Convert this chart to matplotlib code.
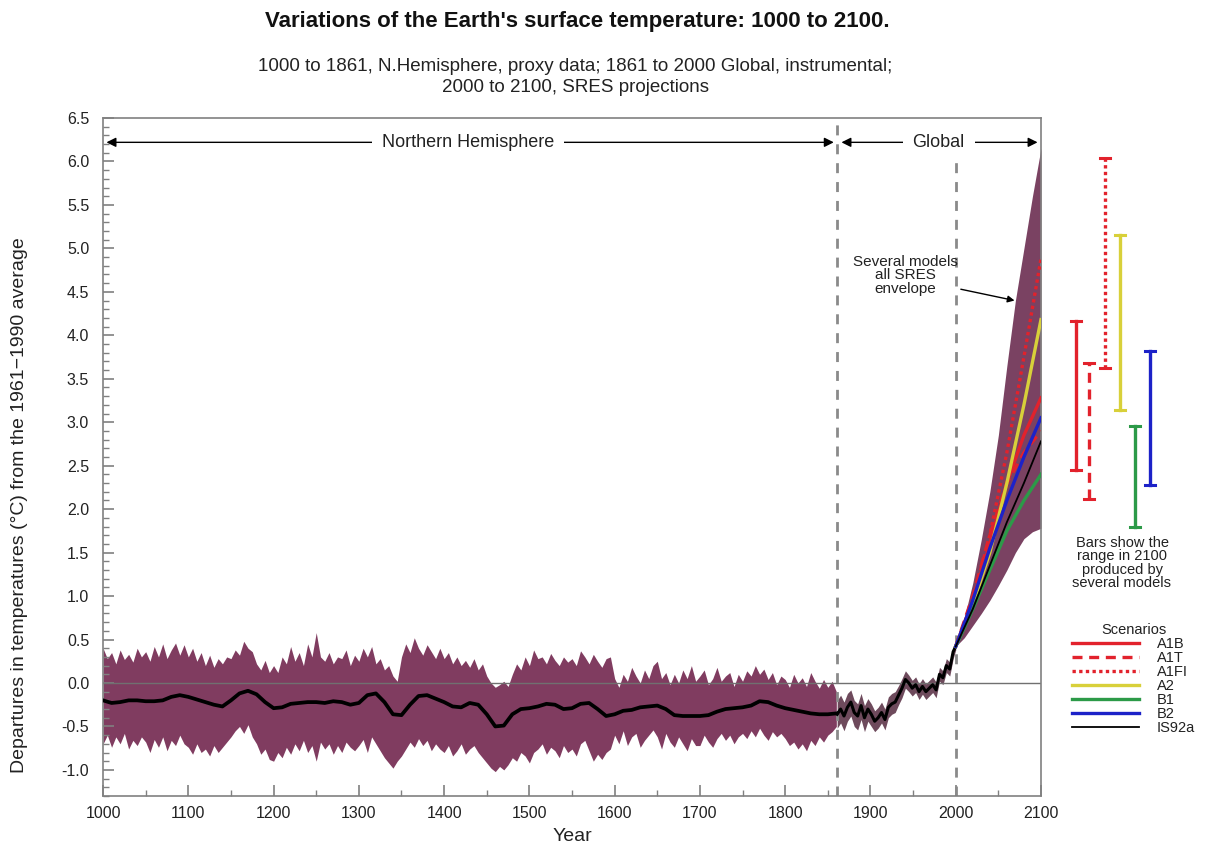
import matplotlib
matplotlib.use("Agg")
import matplotlib.pyplot as plt
from matplotlib.ticker import MultipleLocator, FormatStrFormatter
from matplotlib.lines import Line2D

plt.rcParams['font.family'] = ['Liberation Sans', 'DejaVu Sans']
plt.rcParams['axes.unicode_minus'] = False

# ---------------- data ----------------
# N. Hemisphere proxy envelope, every 5 years 1000..1860
proxy_years = list(range(1000, 1861, 5))
proxy_hi = [0.40, 0.28, 0.35, 0.22, 0.38, 0.27, 0.33, 0.24, 0.40, 0.30,
            0.36, 0.25, 0.42, 0.30, 0.45, 0.28, 0.38, 0.46, 0.32, 0.44,
            0.30, 0.40, 0.25, 0.35, 0.20, 0.32, 0.18, 0.28, 0.22, 0.30,
            0.28, 0.38, 0.32, 0.48, 0.40, 0.36, 0.22, 0.15, 0.26, 0.12,
            0.20, 0.12, 0.30, 0.22, 0.42, 0.25, 0.35, 0.20, 0.45, 0.30,
            0.58, 0.30, 0.25, 0.35, 0.22, 0.30, 0.28, 0.38, 0.20, 0.32,
            0.25, 0.40, 0.30, 0.42, 0.22, 0.28, 0.15, 0.20, 0.08, 0.02,
            0.30, 0.45, 0.35, 0.52, 0.40, 0.32, 0.44, 0.36, 0.28, 0.40,
            0.28, 0.35, 0.22, 0.30, 0.20, 0.26, 0.18, 0.28, 0.15, 0.22,
            0.08, 0.00, -0.05, -0.02, 0.02, -0.04, 0.10, 0.22, 0.15, 0.30,
            0.20, 0.38, 0.28, 0.30, 0.22, 0.34, 0.26, 0.20, 0.30, 0.24,
            0.28, 0.20, 0.37, 0.30, 0.22, 0.33, 0.25, 0.18, 0.28, 0.30,
            0.05, -0.05, 0.10, 0.02, 0.18, 0.08, 0.00, 0.15, 0.05, 0.20,
            0.25, 0.05, 0.12, -0.02, 0.10, 0.00, 0.15, 0.05, 0.20, 0.02,
            0.08, 0.15, -0.02, 0.05, 0.18, 0.02, 0.08, 0.12, -0.04, 0.10,
            0.02, 0.14, 0.08, 0.20, 0.10, 0.16, 0.04, 0.12, -0.02, 0.08,
            0.04, -0.05, 0.10, 0.00, 0.06, -0.04, 0.12, 0.02, -0.06, 0.04,
            -0.05, 0.02, -0.10]
proxy_lo = [-0.70, -0.60, -0.74, -0.62, -0.70, -0.58, -0.76, -0.66, -0.72, -0.62,
            -0.68, -0.80, -0.65, -0.74, -0.62, -0.78, -0.66, -0.72, -0.60, -0.70,
            -0.74, -0.82, -0.70, -0.80, -0.76, -0.84, -0.72, -0.80, -0.74, -0.68,
            -0.62, -0.55, -0.50, -0.58, -0.48, -0.62, -0.70, -0.82, -0.76, -0.88,
            -0.90, -0.80, -0.86, -0.74, -0.82, -0.70, -0.78, -0.66, -0.80, -0.72,
            -0.90, -0.68, -0.76, -0.70, -0.82, -0.72, -0.80, -0.68, -0.74, -0.78,
            -0.72, -0.65, -0.80, -0.62, -0.70, -0.78, -0.86, -0.92, -0.98, -0.90,
            -0.84, -0.76, -0.68, -0.74, -0.64, -0.72, -0.66, -0.78, -0.70, -0.76,
            -0.80, -0.72, -0.84, -0.78, -0.70, -0.82, -0.76, -0.72, -0.80, -0.86,
            -0.92, -0.98, -1.02, -0.96, -1.00, -0.94, -0.86, -0.90, -0.80, -0.84,
            -0.92, -0.80, -0.76, -0.70, -0.82, -0.74, -0.78, -0.86, -0.72, -0.80,
            -0.76, -0.84, -0.70, -0.66, -0.78, -0.90, -0.82, -0.88, -0.80, -0.76,
            -0.60, -0.70, -0.55, -0.72, -0.62, -0.58, -0.74, -0.66, -0.60, -0.54,
            -0.62, -0.76, -0.58, -0.68, -0.74, -0.62, -0.70, -0.78, -0.64, -0.72,
            -0.72, -0.60, -0.68, -0.74, -0.64, -0.58, -0.66, -0.60, -0.70, -0.62,
            -0.58, -0.64, -0.55, -0.62, -0.52, -0.60, -0.66, -0.56, -0.62, -0.58,
            -0.64, -0.72, -0.68, -0.76, -0.70, -0.78, -0.66, -0.72, -0.62, -0.68,
            -0.60, -0.56, -0.50]

# smoothed proxy curve, every 10 years 1000..1860
smooth_years = list(range(1000, 1861, 10))
smooth_vals = [-0.20, -0.23, -0.22, -0.20, -0.20, -0.21, -0.21, -0.20, -0.16, -0.14,
               -0.16, -0.19, -0.22, -0.25, -0.27, -0.20, -0.12, -0.09, -0.13, -0.22,
               -0.29, -0.28, -0.24, -0.23, -0.22, -0.22, -0.23, -0.21, -0.22, -0.25,
               -0.23, -0.14, -0.12, -0.22, -0.36, -0.37, -0.25, -0.15, -0.14, -0.18,
               -0.22, -0.27, -0.28, -0.23, -0.25, -0.36, -0.50, -0.49, -0.36, -0.30,
               -0.29, -0.27, -0.24, -0.25, -0.30, -0.29, -0.24, -0.23, -0.30, -0.38,
               -0.36, -0.32, -0.31, -0.28, -0.27, -0.26, -0.30, -0.37, -0.38, -0.38,
               -0.38, -0.37, -0.33, -0.30, -0.29, -0.28, -0.26, -0.21, -0.22, -0.26,
               -0.29, -0.31, -0.33, -0.35, -0.36, -0.36, -0.35]

# global instrumental record 1861..2000
instr_years = [1861, 1865, 1869, 1873, 1877, 1881, 1885, 1889, 1893, 1897,
               1901, 1905, 1909, 1913, 1917, 1921, 1925, 1929, 1933, 1937,
               1941, 1945, 1949, 1953, 1957, 1961, 1965, 1969, 1973, 1977,
               1981, 1985, 1989, 1993, 1997, 2000]
instr_vals = [-0.36, -0.30, -0.38, -0.28, -0.22, -0.34, -0.38, -0.26, -0.40, -0.30,
              -0.36, -0.44, -0.40, -0.34, -0.42, -0.28, -0.24, -0.22, -0.14, -0.06,
              0.04, 0.00, -0.06, -0.02, -0.10, -0.04, -0.10, -0.06, -0.02, -0.08,
              0.10, 0.06, 0.20, 0.16, 0.36, 0.42]
instr_hi = [-0.20, -0.14, -0.22, -0.12, -0.08, -0.20, -0.24, -0.12, -0.26, -0.18,
            -0.24, -0.32, -0.28, -0.22, -0.30, -0.16, -0.12, -0.10, -0.03, 0.05,
            0.14, 0.09, 0.03, 0.07, -0.01, 0.05, -0.01, 0.03, 0.07, 0.01,
            0.18, 0.14, 0.28, 0.24, 0.42, 0.46]
instr_lo = [-0.52, -0.46, -0.55, -0.44, -0.38, -0.50, -0.54, -0.42, -0.56, -0.44,
            -0.50, -0.56, -0.52, -0.46, -0.54, -0.40, -0.36, -0.34, -0.25, -0.17,
            -0.06, -0.10, -0.15, -0.11, -0.19, -0.13, -0.19, -0.15, -0.11, -0.17,
            0.02, -0.02, 0.12, 0.08, 0.28, 0.38]

# SRES projections 2000..2100
proj_years = [2000, 2010, 2020, 2030, 2040, 2050, 2060, 2070, 2080, 2090, 2100]
env_hi = [0.42, 0.75, 1.15, 1.65, 2.20, 2.85, 3.65, 4.40, 5.00, 5.60, 6.15]
env_lo = [0.42, 0.52, 0.66, 0.80, 0.95, 1.12, 1.30, 1.50, 1.66, 1.74, 1.78]

scen_years = [2000, 2020, 2040, 2060, 2080, 2100]
scenario_names = ["A1B", "A1T", "A1FI", "A2", "B1", "B2", "IS92a"]
scenario_vals = {
    "A1B":   [0.42, 0.95, 1.60, 2.30, 2.85, 3.28],
    "A1T":   [0.42, 1.00, 1.70, 2.30, 2.65, 2.90],
    "A1FI":  [0.42, 0.95, 1.70, 2.65, 3.75, 4.88],
    "A2":    [0.42, 0.90, 1.50, 2.30, 3.20, 4.18],
    "B1":    [0.42, 0.85, 1.30, 1.75, 2.10, 2.40],
    "B2":    [0.42, 0.95, 1.55, 2.10, 2.60, 3.05],
    "IS92a": [0.42, 0.85, 1.35, 1.85, 2.30, 2.78],
}
# model ranges in 2100 (bars)
bar_names = ["A1B", "A1T", "A1FI", "A2", "B1", "B2"]
bar_lo = [2.45, 2.12, 3.62, 3.14, 1.79, 2.28]
bar_hi = [4.16, 3.68, 6.04, 5.15, 2.96, 3.82]

# ---------------- styles ----------------
RED = "#e2222c"; YEL = "#d8d03a"; GRN = "#2c9a48"; BLU = "#1c22c8"
style = {"A1B": (RED, "-", 2.4), "A1T": (RED, (0, (3, 2)), 2.4), "A1FI": (RED, (0, (1, 1)), 2.4),
         "A2": (YEL, "-", 2.4), "B1": (GRN, "-", 2.4), "B2": (BLU, "-", 2.4), "IS92a": ("black", "-", 1.3)}
BAND = "#803c60"
GRAYAX = "#808080"
TXT = "#222"

fig = plt.figure(figsize=(12.11, 8.44), dpi=100)
ax = fig.add_axes([0.0851, 0.0569, 0.7745, 0.8033])
ax.set_xlim(1000, 2100); ax.set_ylim(-1.3, 6.5)

ax.fill_between(proxy_years, proxy_lo, proxy_hi, color=BAND, lw=0, zorder=1)
ax.fill_between(instr_years, instr_lo, instr_hi, color="#6e4a5c", lw=0, zorder=1)
ax.fill_between(proj_years, env_lo, env_hi, color="#7a4262", lw=0, zorder=1)
ax.axhline(0, color="#707070", lw=1.0, zorder=2)
for xv in (1861, 2000):
    ax.axvline(xv, color="#8a8a8a", lw=2, ls=(0, (3.6, 3.2)), zorder=2.5)
ax.plot(smooth_years, smooth_vals, color="black", lw=2.7, zorder=3, solid_joinstyle="round")
ax.plot(instr_years, instr_vals, color="black", lw=2.2, zorder=3, solid_joinstyle="round")
for n in scenario_names:
    c, ls, lw = style[n]
    ax.plot(scen_years, scenario_vals[n], color=c, ls=ls, lw=lw, zorder=4 if n != "IS92a" else 4.5)

# range bars outside the plot
bar_x = [2141, 2156, 2175, 2193, 2210, 2228]
for n, x, lo, hi in zip(bar_names, bar_x, bar_lo, bar_hi):
    c, ls, lw = style[n]
    ax.plot([x, x], [lo, hi], color=c, ls=ls, lw=2.4, clip_on=False)
    for yv in (lo, hi):
        ax.plot([x - 6, x + 6], [yv, yv], color=c, lw=2.2, clip_on=False)

# top arrows
ay = 6.22
ax.annotate("", xy=(1004, ay), xytext=(1857, ay),
            arrowprops=dict(arrowstyle="<|-|>", color="black", lw=1.0, mutation_scale=14, shrinkA=0, shrinkB=0))
ax.text(1428, ay, "Northern Hemisphere", ha="center", va="center", fontsize=13, color=TXT,
        bbox=dict(fc="white", ec="none", pad=7))
ax.annotate("", xy=(1866, ay), xytext=(2096, ay),
            arrowprops=dict(arrowstyle="<|-|>", color="black", lw=1.0, mutation_scale=14, shrinkA=0, shrinkB=0))
ax.text(1980, ay, "Global", ha="center", va="center", fontsize=13, color=TXT,
        bbox=dict(fc="white", ec="none", pad=7))

# envelope annotation
ax.text(1941, 4.69, "Several models\nall SRES\nenvelope", ha="center", va="center", fontsize=11,
        color=TXT, linespacing=0.95)
ax.annotate("", xy=(2069, 4.40), xytext=(2006, 4.53),
            arrowprops=dict(arrowstyle="-|>", color="black", lw=1.0, mutation_scale=10, shrinkA=0, shrinkB=0))

# axes styling
for s in ax.spines.values():
    s.set_color(GRAYAX); s.set_linewidth(1.2)
ax.xaxis.set_major_locator(MultipleLocator(100))
ax.xaxis.set_minor_locator(MultipleLocator(50))
ax.yaxis.set_major_locator(MultipleLocator(0.5))
ax.yaxis.set_minor_locator(MultipleLocator(0.1))
ax.yaxis.set_major_formatter(FormatStrFormatter("%.1f"))
ax.tick_params(which="both", direction="in", color=GRAYAX, labelsize=11.5, labelcolor=TXT)
ax.tick_params(which="major", length=8, width=1.2)
ax.tick_params(which="minor", length=4, width=1.0)
ax.tick_params(axis="y", pad=10)
ax.tick_params(axis="x", pad=7)
ax.set_xlabel("Year", fontsize=14, color=TXT, labelpad=5)

fig.text(0.0165, 0.4017, "Departures in temperatures (°C) from the 1961\u22121990 average",
         rotation=90, ha="center", va="center", fontsize=14, color=TXT)
fig.text(0.4765, 1 - 22 / 844, "Variations of the Earth's surface temperature: 1000 to 2100.",
         ha="center", va="center", fontsize=16, fontweight="bold", color="#111")
fig.text(0.475, 1 - 77 / 844, "1000 to 1861, N.Hemisphere, proxy data; 1861 to 2000 Global, instrumental;\n2000 to 2100, SRES projections",
         ha="center", va="center", fontsize=13.5, color=TXT, linespacing=1.25)

fig.text(1122 / 1211, 1 - 563 / 844, "Bars show the\nrange in 2100\nproduced by\nseveral models",
         ha="center", va="center", fontsize=10.5, color=TXT, linespacing=0.95)

handles = [Line2D([], [], color=style[n][0], ls=style[n][1], lw=style[n][2]) for n in scenario_names]
leg = fig.legend(handles, scenario_names, loc="upper left", bbox_to_anchor=(1062 / 1211, 1 - 613 / 844),
                 frameon=False, title="Scenarios", fontsize=10.5, title_fontsize=10.5,
                 handlelength=4.6, labelspacing=0.0, handletextpad=1.2, borderpad=0.2)
for t in leg.get_texts():
    t.set_color(TXT)
leg.get_title().set_color(TXT)

fig.savefig("out.png", dpi=100, facecolor="white")
